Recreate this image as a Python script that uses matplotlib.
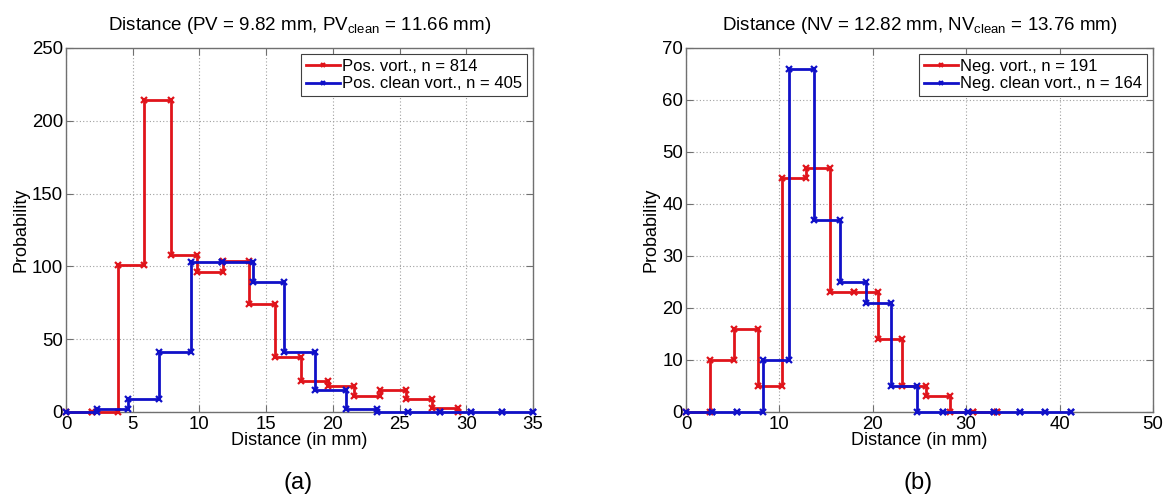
import numpy as np
import matplotlib
matplotlib.use("Agg")
import matplotlib.pyplot as plt

plt.rcParams['font.family'] = ['Liberation Sans', 'DejaVu Sans']

# ---- positive vortices ----
pos_edges = [1.96 * k for k in range(16)]
pos_counts = [0, 0, 101, 214, 108, 96, 104, 74, 38, 21, 18, 11, 15, 9, 3, 0]
pos_clean_edges = [35.0 / 15 * k for k in range(16)]
pos_clean_counts = [0, 2, 9, 41, 103, 103, 89, 41, 15, 2, 0, 0, 0, 0, 0, 0]

# ---- negative vortices ----
neg_edges = [2.565 * k for k in range(14)]
neg_counts = [0, 10, 16, 5, 45, 47, 23, 23, 14, 5, 3, 0, 0, 0]
neg_clean_edges = [41.2 / 15 * k for k in range(16)]
neg_clean_counts = [0, 0, 0, 10, 66, 37, 25, 21, 5, 0, 0, 0, 0, 0, 0, 0]

labels_a = ["Pos. vort., n = 814", "Pos. clean vort., n = 405"]
labels_b = ["Neg. vort., n = 191", "Neg. clean vort., n = 164"]
title_a = r"Distance (PV = 9.82 mm, PV$_{\mathregular{clean}}$ = 11.66 mm)"
title_b = r"Distance (NV = 12.82 mm, NV$_{\mathregular{clean}}$ = 13.76 mm)"

RED = "#e0141b"
BLUE = "#1010c8"


def stair_vertices(x, y):
    """Vertices of a MATLAB-style stairs line (markers at every corner)."""
    xs, ys = [x[0]], [y[0]]
    for i in range(1, len(x)):
        xs += [x[i], x[i]]
        ys += [y[i - 1], y[i]]
    return xs, ys


def draw(ax, series, labels, xlim, ylim, xticks, yticks, title):
    for (x, y), lab, col in zip(series, labels, [RED, BLUE]):
        xs, ys = stair_vertices(x, y)
        ax.plot(xs, ys, color=col, lw=2.0, marker='x', ms=4.5, mew=1.6,
                label=lab, clip_on=False, zorder=3)
    ax.set_xlim(*xlim)
    ax.set_ylim(*ylim)
    ax.set_xticks(xticks)
    ax.set_yticks(yticks)
    ax.grid(True, linestyle=(0, (1, 2)), color='#a0a0a0', lw=0.8)
    ax.tick_params(direction='in', length=5, labelsize=13.4,
                   color='#707070', top=True, right=True)
    ax.tick_params(axis='y', pad=2)
    ax.tick_params(axis='x', pad=3)
    for sp in ax.spines.values():
        sp.set_color('#707070')
        sp.set_linewidth(1.0)
    ax.set_xlabel("Distance (in mm)", fontsize=13, labelpad=-1)
    ax.set_ylabel("Probability", fontsize=13, labelpad=2)
    ax.set_title(title, fontsize=13.5, pad=13)
    leg = ax.legend(loc='upper right', fontsize=12, handlelength=2.0,
                    handletextpad=0.15, borderpad=0.3, labelspacing=0.15,
                    borderaxespad=0.35, fancybox=False, framealpha=1,
                    edgecolor='#404040', markerscale=0.6)
    leg.get_frame().set_linewidth(0.8)


fig = plt.figure(figsize=(11.69, 4.99), dpi=100)
ax1 = fig.add_axes([66 / 1169, 1 - 412 / 499, 467 / 1169, 364 / 499])
ax2 = fig.add_axes([686 / 1169, 1 - 412 / 499, 467 / 1169, 364 / 499])

draw(ax1, [(pos_edges, pos_counts), (pos_clean_edges, pos_clean_counts)],
     labels_a, (0, 35), (0, 250), np.arange(0, 36, 5), np.arange(0, 251, 50),
     title_a)
draw(ax2, [(neg_edges, neg_counts), (neg_clean_edges, neg_clean_counts)],
     labels_b, (0, 50), (0, 70), np.arange(0, 51, 10), np.arange(0, 71, 10),
     title_b)

fig.text(298 / 1169, 1 - 483 / 499, "(a)", fontsize=17, ha='center', va='center')
fig.text(918 / 1169, 1 - 483 / 499, "(b)", fontsize=17, ha='center', va='center')

fig.savefig("out.png", dpi=100)
